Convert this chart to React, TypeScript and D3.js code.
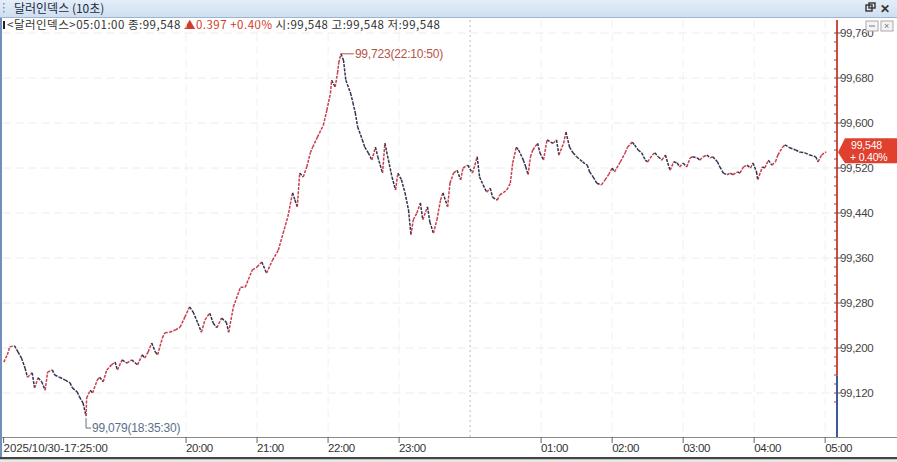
import React from 'react';
import * as d3 from 'd3';

const width = 897;
const height = 462;
const plot = { left: 2.6, right: 837, top: 20, bottom: 437 };

// 10-second dollar index (10/30 17:25 -> 10/31 05:01)
const times: string[] = [
    '17:26', '17:29', '17:31', '17:35', '17:38', '17:41', '17:44', '17:46', '17:50', '17:52',
    '17:55', '17:58', '18:01', '18:03', '18:07', '18:09', '18:13', '18:18', '18:22', '18:24',
    '18:28', '18:30', '18:33', '18:35:30', '18:36', '18:39', '18:41', '18:45', '18:47', '18:50',
    '18:53', '18:57', '19:00', '19:02', '19:06', '19:10', '19:14', '19:19', '19:23', '19:25',
    '19:28', '19:31', '19:34', '19:36', '19:40', '19:42', '19:46', '19:51', '19:55', '19:59',
    '20:03', '20:06', '20:10', '20:13', '20:16', '20:20', '20:23', '20:26', '20:30', '20:34',
    '20:36', '20:40', '20:46', '20:50', '20:56', '21:00', '21:04', '21:08', '21:13', '21:18',
    '21:22', '21:26', '21:30', '21:32', '21:34', '21:36', '21:39', '21:42', '21:45', '21:47',
    '21:51', '21:56', '21:59', '22:02', '22:03', '22:06', '22:08', '22:09', '22:10:50', '22:13',
    '22:15', '22:19', '22:21', '22:23', '22:25', '22:29', '22:31', '22:34', '22:37', '22:40',
    '22:42', '22:46', '22:48', '22:51', '22:54', '22:57', '22:59', '23:02', '23:05', '23:08',
    '23:10', '23:12', '23:15', '23:18', '23:20', '23:24', '23:26', '23:29', '23:32', '23:35',
    '23:37', '23:41', '23:43', '23:46', '23:49', '23:52', '23:54', '23:58', '00:02', '00:04',
    '00:06', '00:08', '00:11', '00:14', '00:17', '00:19', '00:23', '00:25', '00:28', '00:31',
    '00:34', '00:36', '00:39', '00:41', '00:45', '00:47', '00:49', '00:51', '00:53', '00:57',
    '00:59', '01:02', '01:05', '01:08', '01:10', '01:13', '01:15', '01:19', '01:21', '01:24',
    '01:27', '01:30', '01:35', '01:39', '01:41', '01:44', '01:47', '01:51', '01:54', '01:57',
    '02:00', '02:02', '02:07', '02:11', '02:13', '02:17', '02:19', '02:22', '02:25', '02:28',
    '02:30', '02:34', '02:36', '02:39', '02:42', '02:45', '02:47', '02:49', '02:52', '02:55',
    '02:57', '03:00', '03:03', '03:06', '03:08', '03:12', '03:14', '03:17', '03:20', '03:23',
    '03:25', '03:29', '03:31', '03:34', '03:37', '03:40', '03:42', '03:46', '03:48', '03:51',
    '03:54', '03:57', '03:59', '04:02', '04:03', '04:07', '04:09', '04:12', '04:15', '04:18',
    '04:20', '04:24', '04:26', '04:30', '04:35', '04:39', '04:43', '04:47', '04:52', '04:54',
    '04:57', '05:00', '05:01',
];

const values: number[] = [
    99.175, 99.188, 99.202, 99.204, 99.193, 99.182, 99.164, 99.148, 99.156, 99.129,
    99.147, 99.140, 99.125, 99.157, 99.161, 99.152, 99.148, 99.143, 99.138, 99.129,
    99.122, 99.113, 99.102, 99.079, 99.111, 99.125, 99.120, 99.143, 99.148, 99.140,
    99.161, 99.170, 99.175, 99.161, 99.179, 99.173, 99.179, 99.170, 99.188, 99.182,
    99.193, 99.209, 99.193, 99.188, 99.218, 99.227, 99.228, 99.232, 99.237, 99.255,
    99.273, 99.264, 99.244, 99.228, 99.250, 99.262, 99.244, 99.236, 99.253, 99.246,
    99.228, 99.273, 99.308, 99.308, 99.339, 99.344, 99.353, 99.333, 99.356, 99.374,
    99.404, 99.433, 99.476, 99.463, 99.451, 99.511, 99.504, 99.522, 99.547, 99.557,
    99.575, 99.596, 99.623, 99.653, 99.676, 99.664, 99.689, 99.707, 99.723, 99.712,
    99.676, 99.653, 99.636, 99.618, 99.593, 99.570, 99.557, 99.547, 99.534, 99.557,
    99.540, 99.511, 99.564, 99.534, 99.504, 99.481, 99.511, 99.499, 99.476, 99.445,
    99.401, 99.428, 99.440, 99.458, 99.428, 99.451, 99.424, 99.404, 99.428, 99.463,
    99.476, 99.451, 99.493, 99.511, 99.516, 99.499, 99.520, 99.525, 99.511, 99.525,
    99.540, 99.504, 99.490, 99.477, 99.484, 99.468, 99.463, 99.472, 99.476, 99.481,
    99.493, 99.529, 99.557, 99.552, 99.534, 99.522, 99.508, 99.540, 99.552, 99.564,
    99.547, 99.534, 99.570, 99.566, 99.564, 99.570, 99.543, 99.564, 99.584, 99.557,
    99.547, 99.540, 99.531, 99.525, 99.513, 99.504, 99.493, 99.490, 99.499, 99.508,
    99.520, 99.513, 99.531, 99.547, 99.557, 99.566, 99.561, 99.552, 99.547, 99.534,
    99.531, 99.543, 99.547, 99.540, 99.534, 99.543, 99.529, 99.516, 99.531, 99.529,
    99.522, 99.529, 99.522, 99.538, 99.540, 99.538, 99.534, 99.540, 99.543, 99.538,
    99.540, 99.531, 99.522, 99.511, 99.508, 99.511, 99.508, 99.513, 99.511, 99.522,
    99.525, 99.520, 99.529, 99.513, 99.499, 99.522, 99.520, 99.534, 99.525, 99.531,
    99.543, 99.557, 99.561, 99.556, 99.552, 99.548, 99.547, 99.543, 99.540, 99.531,
    99.543, 99.548, 99.548,
];

const yTicks: number[] = [99.12, 99.2, 99.28, 99.36, 99.44, 99.52, 99.6, 99.68, 99.76];
const xTickHours: string[] = ['20:00', '21:00', '22:00', '23:00', '01:00', '02:00', '03:00', '04:00', '05:00'];
const firstLabel = '2025/10/30-17:25:00';
const prevClose = 99.151;
const last = { value: 99.548, change: 0.397, pct: '+0.40%', time: '05:01:00' };
const high = { value: 99.723, time: '22:10:50' };
const low = { value: 99.079, time: '18:35:30' };

const parseT = (s: string) => {
    const [h, m, sec] = s.split(':').map(Number);
    const day = h < 12 ? 31 : 30;
    return new Date(2025, 9, day, h, m, sec || 0);
};

const fmt = (v: number) => d3.format('.3f')(v).replace('.', ',');
const font = '"Liberation Sans", Arial, sans-serif';
const kfont = '"Noto Sans CJK KR", "Liberation Sans", sans-serif';

const App = () => {
    const x = d3.scaleTime()
        .domain([parseT('17:25'), parseT('05:10')])
        .range([plot.left, plot.right]);
    const y = d3.scaleLinear().domain([99.12, 99.76]).range([393, 33]);

    const pts = times.map((t, i) => ({ x: x(parseT(t)), y: y(values[i]), v: values[i] }));
    const minorTicks = d3.range(99.104, 99.77, 0.016);
    const midnight = x(parseT('00:00'));
    const prevY = y(prevClose);
    const hi = pts[times.indexOf(high.time)];
    const lo = pts[times.indexOf(low.time)];
    const lastY = y(last.value);

    return (
        <svg width={width} height={height} style={{ position: 'absolute', left: 0, top: 0, background: '#fff' }}>
            {/* title bar */}
            <defs>
                <linearGradient id="tb" x1="0" x2="0" y1="0" y2="1">
                    <stop offset="0" stopColor="#e4eef8" />
                    <stop offset="1" stopColor="#cfdff0" />
                </linearGradient>
            </defs>
            <rect x={0} y={0} width={width} height={17} fill="url(#tb)" />
            <line x1={0} x2={width} y1={17.5} y2={17.5} stroke="#9db5cf" />
            {[3, 7, 11].map(d => <rect key={d} x={3} y={d} width={1.5} height={1.5} fill="#7d93ad" />)}
            <text x={14} y={13} fontFamily={kfont} fontSize={12} fill="#1c2b45">달러인덱스 (10초)</text>
            <rect x={866} y={5} width={6} height={6} fill="none" stroke="#333" strokeWidth={1.4} />
            <rect x={869} y={3} width={6} height={5} fill="none" stroke="#333" strokeWidth={1.4} />
            <text x={880} y={13} fontFamily={font} fontSize={12} fontWeight="bold" fill="#333">✕</text>

            {/* info line */}
            <rect x={3} y={21} width={2} height={8} fill="#222" />
            <text x={7} y={29} fontFamily={kfont} fontSize={11.5} fill="#333" letterSpacing={0.5}>
                {`<달러인덱스>${last.time} 종:${fmt(last.value)} `}
                <tspan fill="#d23a2a">{`▲${d3.format('.3f')(last.change)}  ${last.pct}`}</tspan>
                {`  시:${fmt(last.value)} 고:${fmt(last.value)} 저:${fmt(last.value)}`}
            </text>

            {/* left border */}
            <line x1={1} x2={1} y1={18} y2={458} stroke="#6f8fbf" strokeWidth={2} />

            {/* grid */}
            {yTicks.map(t => (
                <line key={t} x1={plot.left} x2={plot.right} y1={y(t)} y2={y(t)} stroke="#ececec" strokeDasharray="8 5" />
            ))}
            {xTickHours.map(h => (
                <line key={h} x1={x(parseT(h))} x2={x(parseT(h))} y1={plot.top} y2={plot.bottom} stroke="#f0f0f0" strokeDasharray="8 5" />
            ))}
            <line x1={midnight} x2={midnight} y1={plot.top} y2={plot.bottom} stroke="#b8b8b8" strokeDasharray="2 3" />

            {/* price line */}
            {pts.slice(1).map((p, i) => {
                const q = pts[i];
                return (
                    <line key={i} x1={q.x} y1={q.y} x2={p.x} y2={p.y}
                        stroke={p.v >= q.v ? '#c8404e' : '#35324f'} strokeWidth={1.5} strokeDasharray="3 1.2" />
                );
            })}

            {/* high / low marks */}
            <line x1={hi.x} x2={hi.x + 13} y1={hi.y} y2={hi.y} stroke="#b4544a" />
            <text x={hi.x + 14} y={hi.y + 4} fontFamily={font} fontSize={12} fill="#b4544a" letterSpacing={-0.2}>
                {`${fmt(high.value)}(${high.time})`}
            </text>
            <path d={`M${lo.x},${lo.y + 2}V${lo.y + 12}H${lo.x + 5}`} fill="none" stroke="#5c7088" />
            <text x={lo.x + 6} y={lo.y + 16} fontFamily={font} fontSize={12} fill="#5c7088" letterSpacing={-0.2}>
                {`${fmt(low.value)}(${low.time})`}
            </text>

            {/* y axis */}
            <line x1={plot.right} x2={plot.right} y1={plot.top} y2={prevY} stroke="#cf4b3f" strokeWidth={2} />
            <line x1={plot.right} x2={plot.right} y1={prevY} y2={plot.bottom} stroke="#3a5a9a" strokeWidth={2} />
            {minorTicks.map(t => (
                <line key={t} x1={plot.right - 3} x2={plot.right} y1={y(t)} y2={y(t)} stroke="#a04040" />
            ))}
            {yTicks.map(t => (
                <g key={t}>
                    <line x1={plot.right} x2={plot.right + 4} y1={y(t)} y2={y(t)} stroke="#555" />
                    <text x={plot.right + 3} y={y(t) + 4} fontFamily={font} fontSize={11.5} fill="#444" letterSpacing={-0.3}>
                        {fmt(t)}
                    </text>
                </g>
            ))}
            <rect x={866} y={21} width={12} height={10} fill="#f4f4f4" stroke="#aaa" />
            <rect x={881} y={21} width={12} height={10} fill="#f4f4f4" stroke="#aaa" />
            <text x={884} y={29} fontFamily={font} fontSize={9} fill="#777">×</text>
            <line x1={869} x2={875} y1={26} y2={26} stroke="#777" />

            {/* last price badge */}
            <path d={`M${plot.right + 1},${lastY} L${plot.right + 8},${lastY - 14} H${width} V${lastY + 11} H${plot.right + 8} Z`} fill="#e0402e" />
            <text x={851} y={lastY - 3} fontFamily={font} fontSize={10.5} fill="#fff" letterSpacing={-0.2}>{fmt(last.value)}</text>
            <text x={850} y={lastY + 9} fontFamily={font} fontSize={10.5} fill="#fff" letterSpacing={-0.2}>{last.pct.replace('+', '+ ')}</text>

            {/* x axis */}
            <line x1={0} x2={width} y1={plot.bottom + 0.5} y2={plot.bottom + 0.5} stroke="#8a8a8a" />
            <line x1={plot.left + 1} x2={plot.left + 1} y1={plot.bottom} y2={plot.bottom + 6} stroke="#666" />
            <text x={plot.left + 1} y={452} fontFamily={font} fontSize={11.5} fill="#333" letterSpacing={-0.1}>{firstLabel}</text>
            {xTickHours.map(h => {
                const px = x(parseT(h));
                return (
                    <g key={h}>
                        <line x1={px} x2={px} y1={plot.bottom} y2={plot.bottom + 6} stroke="#666" />
                        <text x={px} y={452} fontFamily={font} fontSize={11.5} fill="#333" letterSpacing={-0.4}>{h}</text>
                    </g>
                );
            })}
            <rect x={0} y={457} width={width} height={2.5} fill="#444" />
            <rect x={0} y={459.5} width={width} height={2.5} fill="#e8e8e8" />
        </svg>
    );
};

export default App;
